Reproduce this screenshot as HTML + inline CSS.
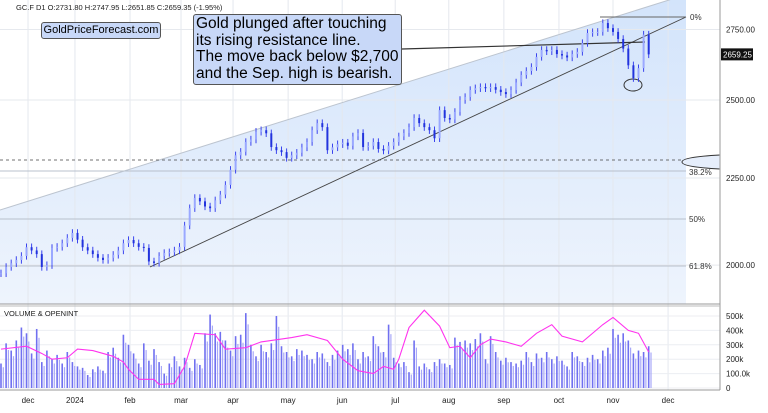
<!DOCTYPE html>
<html><head><meta charset="utf-8">
<style>
html,body{margin:0;padding:0;background:#fff;}
body{width:768px;height:408px;overflow:hidden;font-family:"Liberation Sans",sans-serif;}
svg text{font-family:"Liberation Sans",sans-serif;}
</style></head>
<body>
<svg id="chart" width="768" height="408" viewBox="0 0 768 408" xmlns="http://www.w3.org/2000/svg">
<defs>
<linearGradient id="bg" x1="0" y1="0" x2="0" y2="1">
<stop offset="0" stop-color="#d3e4fb"/><stop offset="1" stop-color="#eef4fd"/>
</linearGradient>
</defs>
<rect x="0" y="0" width="686" height="304" fill="url(#bg)"/>
<polygon points="0,0 0,210 720,-16 720,0" fill="#ffffff"/>
<g id="grid"></g>
<g id="overlay"></g>
<g id="candles"></g>
<g id="vol"></g>
<g id="axes"></g>
</svg>
<div style="position:absolute;left:41px;top:22px;width:118px;height:15px;border:1px solid #555;border-radius:3px;background:#c8d8f8;font-size:11px;line-height:15px;text-align:center;color:#000;">GoldPriceForecast.com</div>
<div style="position:absolute;left:193px;top:14px;border:1px solid #555;border-radius:3px;background:#c8d8f8;font-size:15.5px;line-height:16.5px;color:#000;padding:1px 0 0 2px;box-sizing:border-box;width:209px;height:71px;">Gold plunged after touching<br>its rising resistance line.<br>The move back below $2,700<br>and the Sep. high is bearish.</div>
<script>
const closes=[1978,1995,2005,2014,2025,2049,2040,2030,1995,2000,2047,2050,2060,2075,2089,2070,2049,2040,2030,2020,2014,2020,2028,2040,2060,2069,2060,2050,2047,2010,2006,2025,2033,2035,2040,2050,2110,2160,2190,2180,2165,2160,2183,2200,2229,2275,2320,2331,2362,2370,2395,2400,2390,2346,2336,2330,2312,2320,2328,2345,2362,2400,2423,2410,2336,2345,2355,2360,2350,2380,2391,2346,2350,2362,2340,2335,2350,2362,2380,2391,2410,2440,2423,2410,2400,2374,2466,2440,2435,2460,2500,2510,2534,2540,2544,2540,2544,2535,2527,2520,2534,2560,2586,2600,2614,2650,2675,2670,2675,2660,2655,2648,2660,2668,2700,2737,2740,2741,2774,2755,2741,2715,2680,2620,2575,2610,2731,2659];
const volumes=[170,310,260,330,420,380,240,410,180,260,200,230,170,250,180,150,140,90,130,150,120,250,280,210,370,300,240,170,310,190,270,180,100,170,220,150,210,140,200,160,380,510,380,390,330,260,360,370,520,300,220,300,250,310,500,290,250,220,270,260,230,200,250,240,180,230,260,300,270,310,200,250,220,360,290,250,440,210,170,180,110,330,150,170,130,180,200,170,160,350,320,330,310,340,380,200,360,250,190,210,180,170,190,250,180,240,210,250,200,220,190,150,250,220,180,210,230,200,260,280,410,370,380,330,240,260,250,290];
const months=["dec","2024","feb","mar","apr","may","jun","jul","aug","sep","oct","nov","dec"];
const monthBars=[5.3,14.5,25.3,35.3,45.5,56.3,66.9,77.3,87.8,98.6,109.4,120,130.8];
const priceTicks=[2750,2500,2250,2000];
const volTicks=[0,100,200,300,400,500];
const volTickLabels=["0","100.0k","200k","300k","400k","500k"];
const oiIdx=[0,5,8,10,13,15,18,22,24,25,27,30,31,34,36,38,42,44,48,51,57,60,64,67,70,73,75,77,78,80,83,86,88,90,92,94,96,99,102,105,108,110,114,118,120,123,125,127];
const oiVals=[270,290,240,200,210,270,260,220,180,130,60,60,25,30,150,380,370,270,280,320,350,370,330,200,120,100,150,130,200,420,540,430,280,290,210,300,340,320,290,380,440,360,320,440,490,400,380,250];
const NS='http://www.w3.org/2000/svg';
const x=i=>i*5.1+1;
const y=p=>100+(Math.log(2500)-Math.log(p))*740;
const vy=v=>388-v*0.144;
function mk(tag,attrs,parent,text){const e=document.createElementNS(NS,tag);for(const k in attrs)e.setAttribute(k,attrs[k]);if(text!==undefined)e.textContent=text;document.getElementById(parent).appendChild(e);return e;}
monthBars.forEach((b,i)=>{
 const g=mk('line',{x1:x(b),x2:x(b),y1:0,y2:390,stroke:'#e4e8ee','stroke-width':1},'grid');
 
 
 const t=mk('text',{x:x(b),y:403,'font-size':8,'text-anchor':'middle',fill:'#222'},'axes',months[i]);
 
 
});
priceTicks.forEach(p=>{
 const g=mk('line',{x1:0,x2:720,y1:y(p),y2:y(p),stroke:'#e6e9ee','stroke-width':1},'grid');
 
 
 const t=mk('text',{x:726,y:y(p)+3,'font-size':8,fill:'#222'},'axes',p.toFixed(2));
 
 
});
volTicks.forEach((v,i)=>{
 const g=mk('line',{x1:0,x2:720,y1:vy(v),y2:vy(v),stroke:'#eceef2','stroke-width':1},'grid');
 
 
 const t=mk('text',{x:726,y:vy(v)+3,'font-size':8,fill:'#222'},'axes',volTickLabels[i]);
 
 
});
const ov=[
 ['line',{x1:0,y1:171,x2:686,y2:171,stroke:'#b8c0cc','stroke-width':1},'fib-38-line'],
 ['line',{x1:0,y1:219,x2:686,y2:219,stroke:'#b8c0cc','stroke-width':1},'fib-50-line'],
 ['line',{x1:0,y1:266,x2:686,y2:266,stroke:'#b8c0cc','stroke-width':1},'fib-61-line'],
 ['line',{x1:0,y1:210,x2:720,y2:-16,stroke:'#bcc4cf','stroke-width':1},'resistance-line'],
 ['line',{x1:150,y1:267,x2:686,y2:17,stroke:'#444','stroke-width':0.9},'support-line'],
 ['line',{x1:600,y1:17,x2:686,y2:17,stroke:'#666','stroke-width':1},'fib-0-line'],
 ['line',{x1:0,y1:160,x2:686,y2:160,stroke:'#444','stroke-width':0.8,'stroke-dasharray':'3,3'},'dashed-level'],
 ['line',{x1:402,y1:49,x2:645,y2:42,stroke:'#333','stroke-width':1.2},'callout-connector'],
 ['ellipse',{cx:633,cy:85,rx:9,ry:6,fill:'none',stroke:'#333','stroke-width':1},'low-ellipse'],
 ['path',{d:'M720,155 Q682,157 682,162 Q682,167 720,169',fill:'#e6eefb',stroke:'#333','stroke-width':1},'level-ellipse'],
 ['line',{x1:720,y1:0,x2:720,y2:390,stroke:'#aaa','stroke-width':1.2},'right-axis-line'],
 ['line',{x1:0,y1:304,x2:720,y2:304,stroke:'#999','stroke-width':1},'pane-separator'],
 ['line',{x1:0,y1:306,x2:720,y2:306,stroke:'#bbb','stroke-width':1},'pane-separator-2'],
 ['line',{x1:0,y1:390,x2:720,y2:390,stroke:'#999','stroke-width':1},'x-axis-line']
];
ov.forEach(o=>{const e=mk(o[0],o[1],'overlay');
 
 });
[['0%',690,20],['38.2%',689,175],['50%',689,222],['61.8%',689,269]].forEach(l=>{
 const t=mk('text',{x:l[1],y:l[2],'font-size':8,fill:'#333'},'overlay',l[0]);
 
 
});
closes.forEach((c,i)=>{
 const o=i?closes[i-1]:c;
 const hi=Math.max(o,c)*1.005, lo=Math.min(o,c)*0.995;
 const w=mk('line',{x1:x(i),x2:x(i),y1:y(hi),y2:y(lo),stroke:'#3a44ee','stroke-width':1},'candles');
 
 
 const top=Math.min(y(o),y(c)),h=Math.max(1,Math.abs(y(o)-y(c)));
 const b=mk('rect',{x:x(i)-1,y:top,width:2,height:h,fill:c>=o?'#9aa8ff':'#2233dd',stroke:'none'},'candles');
 
 
});
volumes.forEach((v,i)=>{
 const r=mk('rect',{x:x(i)-0.8,y:vy(v),width:1.6,height:388-vy(v),fill:'#7070f0'},'vol');
 
 
 const r2=mk('rect',{x:x(i)+1.7,y:vy(v*0.85),width:1.2,height:388-vy(v*0.85),fill:'#a8a8f8'},'vol');
 
 
});
const oiPts=oiIdx.map((b,i)=>x(b)+','+vy(oiVals[i])).join(' ');
const oi=mk('polyline',{points:oiPts,fill:'none',stroke:'#ff33ee','stroke-width':1.1},'vol');


const vt=mk('text',{x:4,y:316,'font-size':7.5,fill:'#222'},'axes','VOLUME & OPENINT');


const hd=mk('text',{x:16,y:10,'font-size':7.5,fill:'#222'},'axes','GC.F  D1  O:2731.80  H:2747.95  L:2651.85  C:2659.35  (-1.95%)');


const last=closes[closes.length-1];
const pb=mk('rect',{x:721,y:y(last)-6,width:32,height:12,fill:'#111'},'axes');


const pt=mk('text',{x:723,y:y(last)+3,'font-size':8,fill:'#fff'},'axes','2659.25');


</script>
</body></html>
